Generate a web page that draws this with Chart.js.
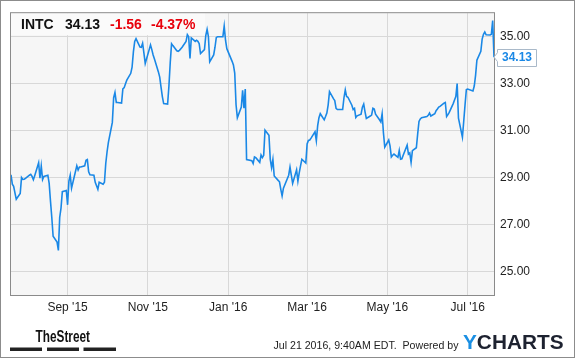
<!DOCTYPE html>
<html>
<head>
<meta charset="utf-8">
<script src="https://cdn.jsdelivr.net/npm/chart.js@4.4.0/dist/chart.umd.min.js"></script>
<style>
  html, body { margin: 0; padding: 0; background: #fff; }
  canvas { display: block; }
</style>
</head>
<body>
<canvas id="c" width="575" height="358"></canvas>
<script>
// ---- data ----
const ticker = 'INTC';
const lastPrice = '34.13';
const change = '-1.56';
const changePct = '-4.37%';
const startDate = '2015-07-20';
const endDate = '2016-07-21';
const holidays = ['2015-09-07','2015-11-26','2015-12-25','2016-01-01','2016-01-18','2016-02-15','2016-03-25','2016-05-30','2016-07-04'];
const closes = [
29.12, 28.72, 28.63, 28.35, 28.08,
28.32, 29.0, 28.92, 28.93, 28.97,
29.1, 29.14, 29.05, 28.91, 29.08,
29.63, 28.97, 29.49, 28.92, 29.05,
29.10, 28.75, 28.0, 27.3, 26.5,
26.25, 25.90, 27.30, 27.7, 28.40,
28.45, 27.84, 28.85, 29.10, 28.55,
29.5, 29.32, 29.45, 29.45,
29.5, 29.74, 29.77, 29.25, 29.12,
29.1, 28.8, 28.65, 28.5, 28.8,
28.72, 28.8, 29.6, 30.1, 30.5,
31.35, 32.4, 32.62, 32.2, 32.2,
32.17, 32.78, 32.83, 33.0, 33.15,
33.44, 33.7, 34.35, 34.8, 34.92,
34.56, 34.55, 34.72, 34.3, 33.86,
34.45, 34.65, 34.45, 34.22, 34.05,
33.5, 33.28, 32.85, 32.45, 32.15,
32.13, 32.9, 33.9, 34.7, 34.62,
34.4, 34.38, 34.42, 34.55,
34.8, 35.09, 35.0, 34.07, 34.95,
34.8, 34.85, 34.8, 34.7, 34.28,
34.45, 35.05, 35.31, 35.0, 33.93,
34.22, 34.55, 34.97, 35.0,
35.0, 35.45, 34.85, 34.49,
33.95, 33.8, 33.45, 32.1, 31.55,
32.0, 32.72, 31.96, 32.77, 29.77,
29.72, 29.6, 29.88, 29.85,
29.65, 29.96, 29.85, 29.95, 31.02,
30.8, 29.77, 29.42, 29.77, 29.07,
28.88, 28.82, 28.5, 28.22, 28.55,
29.1, 29.45, 29.1, 28.75,
29.33, 28.85, 29.2, 29.5, 29.78,
29.62, 30.43, 30.58, 30.6, 30.68,
30.95, 30.57, 31.2, 31.55, 31.72,
31.46, 31.6, 31.75, 32.1, 32.66,
32.36, 32.28, 31.95, 31.9,
31.9, 32.4, 32.73, 32.45, 32.42,
32.08, 31.9, 31.95, 31.56, 31.63,
31.7, 32.0, 32.13, 31.8, 31.52,
31.62, 31.66, 31.95, 31.92, 31.7,
31.46, 31.37, 31.72, 30.9, 30.3,
30.6, 30.35, 29.88, 29.95, 30.0,
29.86, 30.15, 29.78, 29.8, 29.95,
30.38, 30.0, 30.05, 29.65, 30.15,
30.27, 30.85, 31.39, 31.5, 31.55,
31.6, 31.65, 31.75, 31.62,
31.72, 31.85, 31.92, 32.0, 32.03,
32.17, 32.2, 31.6, 31.68, 31.78,
32.15, 32.3, 32.45, 33.0, 31.53,
30.72, 31.4, 32.1, 32.75, 32.77,
32.69, 32.9, 33.35, 34.0,
34.38, 34.9, 35.1, 35.2, 35.08,
35.07, 35.1, 35.69, 34.13
];
const xTickDates = ['2015-09-01','2015-11-01','2016-01-01','2016-03-01','2016-05-01','2016-07-01'];
const xTickLabels = ["Sep '15","Nov '15","Jan '16","Mar '16","May '16","Jul '16"];
const yTicks = [25, 27, 29, 31, 33, 35];
const yMin = 24, yMax = 36;
const footerDate = 'Jul 21 2016, 9:40AM EDT.  Powered by';

// ---- build trading-day x positions (days since start) ----
const DAY = 86400000;
const t0 = Date.parse(startDate + 'T00:00:00Z');
const t1 = Date.parse(endDate + 'T00:00:00Z');
const dayOf = s => Math.round((Date.parse(s + 'T00:00:00Z') - t0) / DAY);
const holidaySet = new Set(holidays);
const tradingDays = [];
for (let t = t0; t <= t1; t += DAY) {
  const d = new Date(t);
  const dow = d.getUTCDay();
  const iso = d.toISOString().slice(0, 10);
  if (dow === 0 || dow === 6 || holidaySet.has(iso)) continue;
  tradingDays.push(Math.round((t - t0) / DAY));
}
const points = closes.map((v, i) => ({ x: tradingDays[i], y: v }));
const xMax = dayOf(endDate);
const xTickValues = xTickDates.map(dayOf);

const FONT = '"Liberation Sans", Arial, sans-serif';
const BLUE = '#1a88e6';

const decor = {
  id: 'decor',
  beforeDraw(chart) {
    const { ctx, chartArea: a } = chart;
    ctx.save();
    ctx.fillStyle = '#ffffff';
    ctx.fillRect(0, 0, chart.width, chart.height);
    ctx.fillStyle = '#f6f6f6';
    ctx.fillRect(a.left, a.top, a.right - a.left, a.bottom - a.top);
    ctx.restore();
  },
  beforeDatasetsDraw(chart) {
    const { ctx, chartArea: a } = chart;
    ctx.save();
    ctx.fillStyle = '#fafafa';
    ctx.fillRect(a.left, a.top, 194, 22);
    ctx.restore();
  },
  afterDatasetsDraw(chart) {
    const { ctx, chartArea: a } = chart;
    ctx.save();
    // plot frame
    ctx.strokeStyle = '#8a8a8a';
    ctx.lineWidth = 1;
    ctx.strokeRect(a.left - 0.5, a.top - 0.5, a.right - a.left + 1, a.bottom - a.top + 1);

    // header text
    ctx.textBaseline = 'alphabetic';
    ctx.textAlign = 'left';
    ctx.font = 'bold 14px ' + FONT;
    ctx.fillStyle = '#111';
    ctx.fillText(ticker, 21, 28.5);
    ctx.fillText(lastPrice, 65, 28.5);
    ctx.fillStyle = '#e8000b';
    ctx.fillText(change, 110, 28.5);
    ctx.fillText(changePct, 151, 28.5);

    // last value callout
    const yv = chart.scales.y.getPixelForValue(closes[closes.length - 1]);
    const bx = 497.5, bw = 39, bh = 17, by = Math.round(yv - bh / 2) + 0.5;
    ctx.beginPath();
    ctx.moveTo(bx, by);
    ctx.lineTo(bx + bw, by);
    ctx.lineTo(bx + bw, by + bh);
    ctx.lineTo(bx, by + bh);
    ctx.lineTo(bx, yv + 4.5);
    ctx.lineTo(bx - 3.5, yv);
    ctx.lineTo(bx, yv - 4.5);
    ctx.closePath();
    ctx.fillStyle = '#ffffff';
    ctx.fill();
    ctx.strokeStyle = '#a9b9c9';
    ctx.stroke();
    ctx.fillStyle = BLUE;
    ctx.font = 'bold 12px ' + FONT;
    ctx.textBaseline = 'middle';
    ctx.fillText(lastPrice, 502, yv + 0.5);

    // footer: TheStreet
    ctx.textBaseline = 'alphabetic';
    ctx.fillStyle = '#111';
    ctx.font = 'bold 16px ' + FONT;
    const tsW = ctx.measureText('TheStreet').width;
    ctx.save();
    ctx.translate(35.5, 341.7);
    ctx.scale(54.5 / tsW, 1);
    ctx.fillText('TheStreet', 0, 0);
    ctx.restore();
    ctx.fillStyle = '#222';
    ctx.fillRect(10, 347.5, 32, 3.5);
    ctx.fillRect(47, 347.5, 32, 3.5);
    ctx.fillRect(83.5, 347.5, 32.5, 3.5);

    // footer: date + powered by (fit to reference width)
    ctx.font = '11px ' + FONT;
    ctx.fillStyle = '#222';
    const fW = ctx.measureText(footerDate).width;
    ctx.save();
    ctx.translate(273.5, 348.5);
    ctx.scale(Math.min(1, 185 / fW), 1);
    ctx.fillText(footerDate, 0, 0);
    ctx.restore();

    // YCHARTS
    ctx.font = 'bold 20px ' + FONT;
    const yW = ctx.measureText('Y').width;
    const allW = ctx.measureText('YCHARTS').width;
    ctx.save();
    ctx.translate(463, 349);
    ctx.scale(100.5 / allW, 1);
    ctx.fillStyle = '#1a8fe3';
    ctx.fillText('Y', 0, 0);
    ctx.fillStyle = '#1d2230';
    ctx.fillText('CHARTS', yW, 0);
    ctx.restore();

    // outer frame
    ctx.strokeStyle = '#8c8c8c';
    ctx.strokeRect(0.5, 0.5, chart.width - 1, chart.height - 1);
    ctx.restore();
  }
};

new Chart(document.getElementById('c'), {
  type: 'line',
  data: {
    datasets: [{
      data: points,
      borderColor: BLUE,
      borderWidth: 1.6,
      pointRadius: 0,
      tension: 0,
      fill: false
    }]
  },
  options: {
    responsive: false,
    animation: false,
    devicePixelRatio: 1,
    layout: { padding: { left: 11, top: 11, right: 0, bottom: 0 } },
    plugins: { legend: { display: false }, tooltip: { enabled: false } },
    scales: {
      x: {
        type: 'linear',
        position: 'bottom',
        min: 0,
        max: xMax,
        grid: { color: '#d8d8d8', drawTicks: false, lineWidth: 1 },
        border: { display: false },
        afterBuildTicks: s => { s.ticks = xTickValues.map(v => ({ value: v })); },
        afterFit: s => { s.height = 63; },
        ticks: {
          autoSkip: false,
          maxRotation: 0,
          padding: 5,
          color: '#222',
          font: { family: FONT, size: 12 },
          callback: v => { const i = xTickValues.indexOf(v); return i >= 0 ? xTickLabels[i] : ''; }
        }
      },
      y: {
        position: 'right',
        min: yMin,
        max: yMax,
        grid: { color: '#d8d8d8', drawTicks: false, lineWidth: 1 },
        border: { display: false },
        afterBuildTicks: s => { s.ticks = yTicks.map(v => ({ value: v })); },
        afterFit: s => { s.width = 81; },
        ticks: {
          padding: 6,
          color: '#222',
          font: { family: FONT, size: 12 },
          callback: v => Number(v).toFixed(2)
        }
      }
    }
  },
  plugins: [decor]
});
</script>
</body>
</html>
